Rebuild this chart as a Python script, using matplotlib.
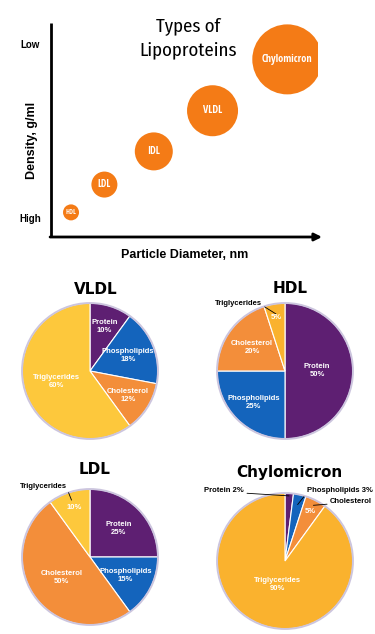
import numpy as np
import matplotlib
matplotlib.use('Agg')
import matplotlib.pyplot as plt

W, H = 375, 634

# bubble chart data (relative positions on the unlabelled axes)
names = ['HDL', 'LDL', 'IDL', 'VLDL', 'Chylomicron']
diameter = [7.5, 20, 38.5, 60.5, 88.5]
density = [11.5, 24.5, 40, 59, 83]
bubble = [8, 13, 19, 25.5, 35]

# composition pies
parts = ['Protein', 'Phospholipids', 'Cholesterol', 'Triglycerides']
vldl = [10, 18, 12, 60]
hdl = [50, 25, 20, 5]
ldl = [25, 15, 50, 10]
chylo = [2, 3, 5, 90]

orange = '#F47B16'
purple = '#5E1F72'
blue = '#1464BC'
chol = '#F38E3A'
yel = '#FDC83C'
yel2 = '#FAB22E'

cond = ['Open Sans Condensed', 'DejaVu Sans']
title_font = ['Fira Sans Condensed', 'DejaVu Sans']


def fx(x):
    return x / W


def fy(y):
    return 1 - y / H


fig = plt.figure(figsize=(3.75, 6.34), dpi=100)

# ---- top bubble chart ----
ax = fig.add_axes([fx(51), fy(237), 267 / W, 214 / H])
ax.set_xlim(0, 100)
ax.set_ylim(0, 100)
ax.axis('off')
ax.scatter(diameter, density, s=[(2 * r * 0.72) ** 2 for r in bubble],
           color=orange, lw=0, zorder=2)
lbl_size = [5, 7, 7.5, 7.5, 7.5]
for n, x, y, fs in zip(names, diameter, density, lbl_size):
    ax.text(x, y, n, color='white', fontsize=fs, fontweight='bold',
            family=cond, ha='center', va='center', zorder=3)
ax.plot([0, 0], [0, 100], color='black', lw=2, solid_capstyle='butt', clip_on=False)
ax.annotate('', xy=(101.5, 0), xytext=(-0.35, 0),
            arrowprops=dict(arrowstyle='-|>', color='black', lw=2,
                            mutation_scale=11, shrinkA=0, shrinkB=0),
            annotation_clip=False)

fig.text(fx(188), fy(38.5), 'Types of\nLipoproteins', fontsize=13.5,
         family=title_font, color='black',
         ha='center', va='center', linespacing=1.45)
fig.text(fx(30), fy(45), 'Low', fontsize=7, fontweight='bold',
         family='Liberation Sans', ha='center', va='center')
fig.text(fx(30), fy(219), 'High', fontsize=7, fontweight='bold',
         family='Liberation Sans', ha='center', va='center')
fig.text(fx(32), fy(140), 'Density, g/ml', fontsize=9, fontweight='bold',
         family='Liberation Sans', rotation=90, ha='center', va='center')
fig.text(fx(185), fy(255), 'Particle Diameter, nm', fontsize=9, fontweight='bold',
         family='Liberation Sans', ha='center', va='center')

# ---- pies ----
pies = [
    ('VLDL', vldl, (90, 371), (96, 290), [purple, blue, chol, yel],
     [0.69, 0.6, 0.66, 0.52], {}),
    ('HDL', hdl, (285, 371), (290, 288), [purple, blue, chol, yel2],
     [0.47, 0.65, 0.6, 0.8], {3: ((-0.34, 1.0), 'right', 0.85)}),
    ('LDL', ldl, (90, 557), (95, 470), [purple, blue, chol, yel],
     [0.6, 0.59, 0.52, 0.77], {3: ((-0.34, 1.04), 'right', 0.88)}),
    ('Chylomicron', chylo, (285, 561), (289, 472), [purple, blue, chol, yel2],
     [0.96, 0.85, 0.82, 0.36],
     {0: ((-0.6, 1.03), 'right', 0.96), 1: ((0.32, 1.03), 'left', 0.85),
      2: ((0.66, 0.87), 'left', 0.92)}),
]

R = 70
for title, vals, (cx, cy), (tx, ty), cols, rads, outside in pies:
    pa = fig.add_axes([fx(cx - R), fy(cy + R), 2 * R / W, 2 * R / H])
    wedges, _ = pa.pie(vals, colors=cols, startangle=90, counterclock=False,
                       wedgeprops=dict(edgecolor='white', linewidth=0.8))
    pa.add_patch(plt.Circle((0, 0), 1.0, fill=False, ec='#CCC5DE', lw=1.4))
    pa.set_xlim(-1.03, 1.03)
    pa.set_ylim(-1.03, 1.03)
    pa.set_aspect('equal')
    pa.axis('off')
    for i, (w, v, name) in enumerate(zip(wedges, vals, parts)):
        mid = np.deg2rad((w.theta1 + w.theta2) / 2)
        if i in outside:
            (ox, oy), ha, pr = outside[i]
            lab = name
            if title == 'Chylomicron' and name != 'Cholesterol':
                lab = f'{name} {v}%'
            pa.annotate(lab, xy=(pr * np.cos(mid), pr * np.sin(mid)),
                        xytext=(ox, oy), ha=ha, va='center', fontsize=5.5,
                        fontweight='bold', family='Liberation Sans',
                        arrowprops=dict(arrowstyle='-', color='black', lw=0.6,
                                        shrinkA=0, shrinkB=0,
                                        relpos=(1, 0.2) if ha == 'right' else (0, 0.2)),
                        annotation_clip=False)
            if title == 'Chylomicron' and name != 'Cholesterol':
                continue
            txt = f'{v}%'
        else:
            txt = f'{name}\n{v}%'
        r = rads[i]
        pa.text(r * np.cos(mid), r * np.sin(mid), txt, color='white',
                fontsize=5.5, fontweight='bold', family='Liberation Sans',
                ha='center', va='center', linespacing=1.2)
    fig.text(fx(tx), fy(ty), title, fontsize=11, fontweight='bold',
             ha='center', va='center')

fig.savefig('out.png', dpi=100)
